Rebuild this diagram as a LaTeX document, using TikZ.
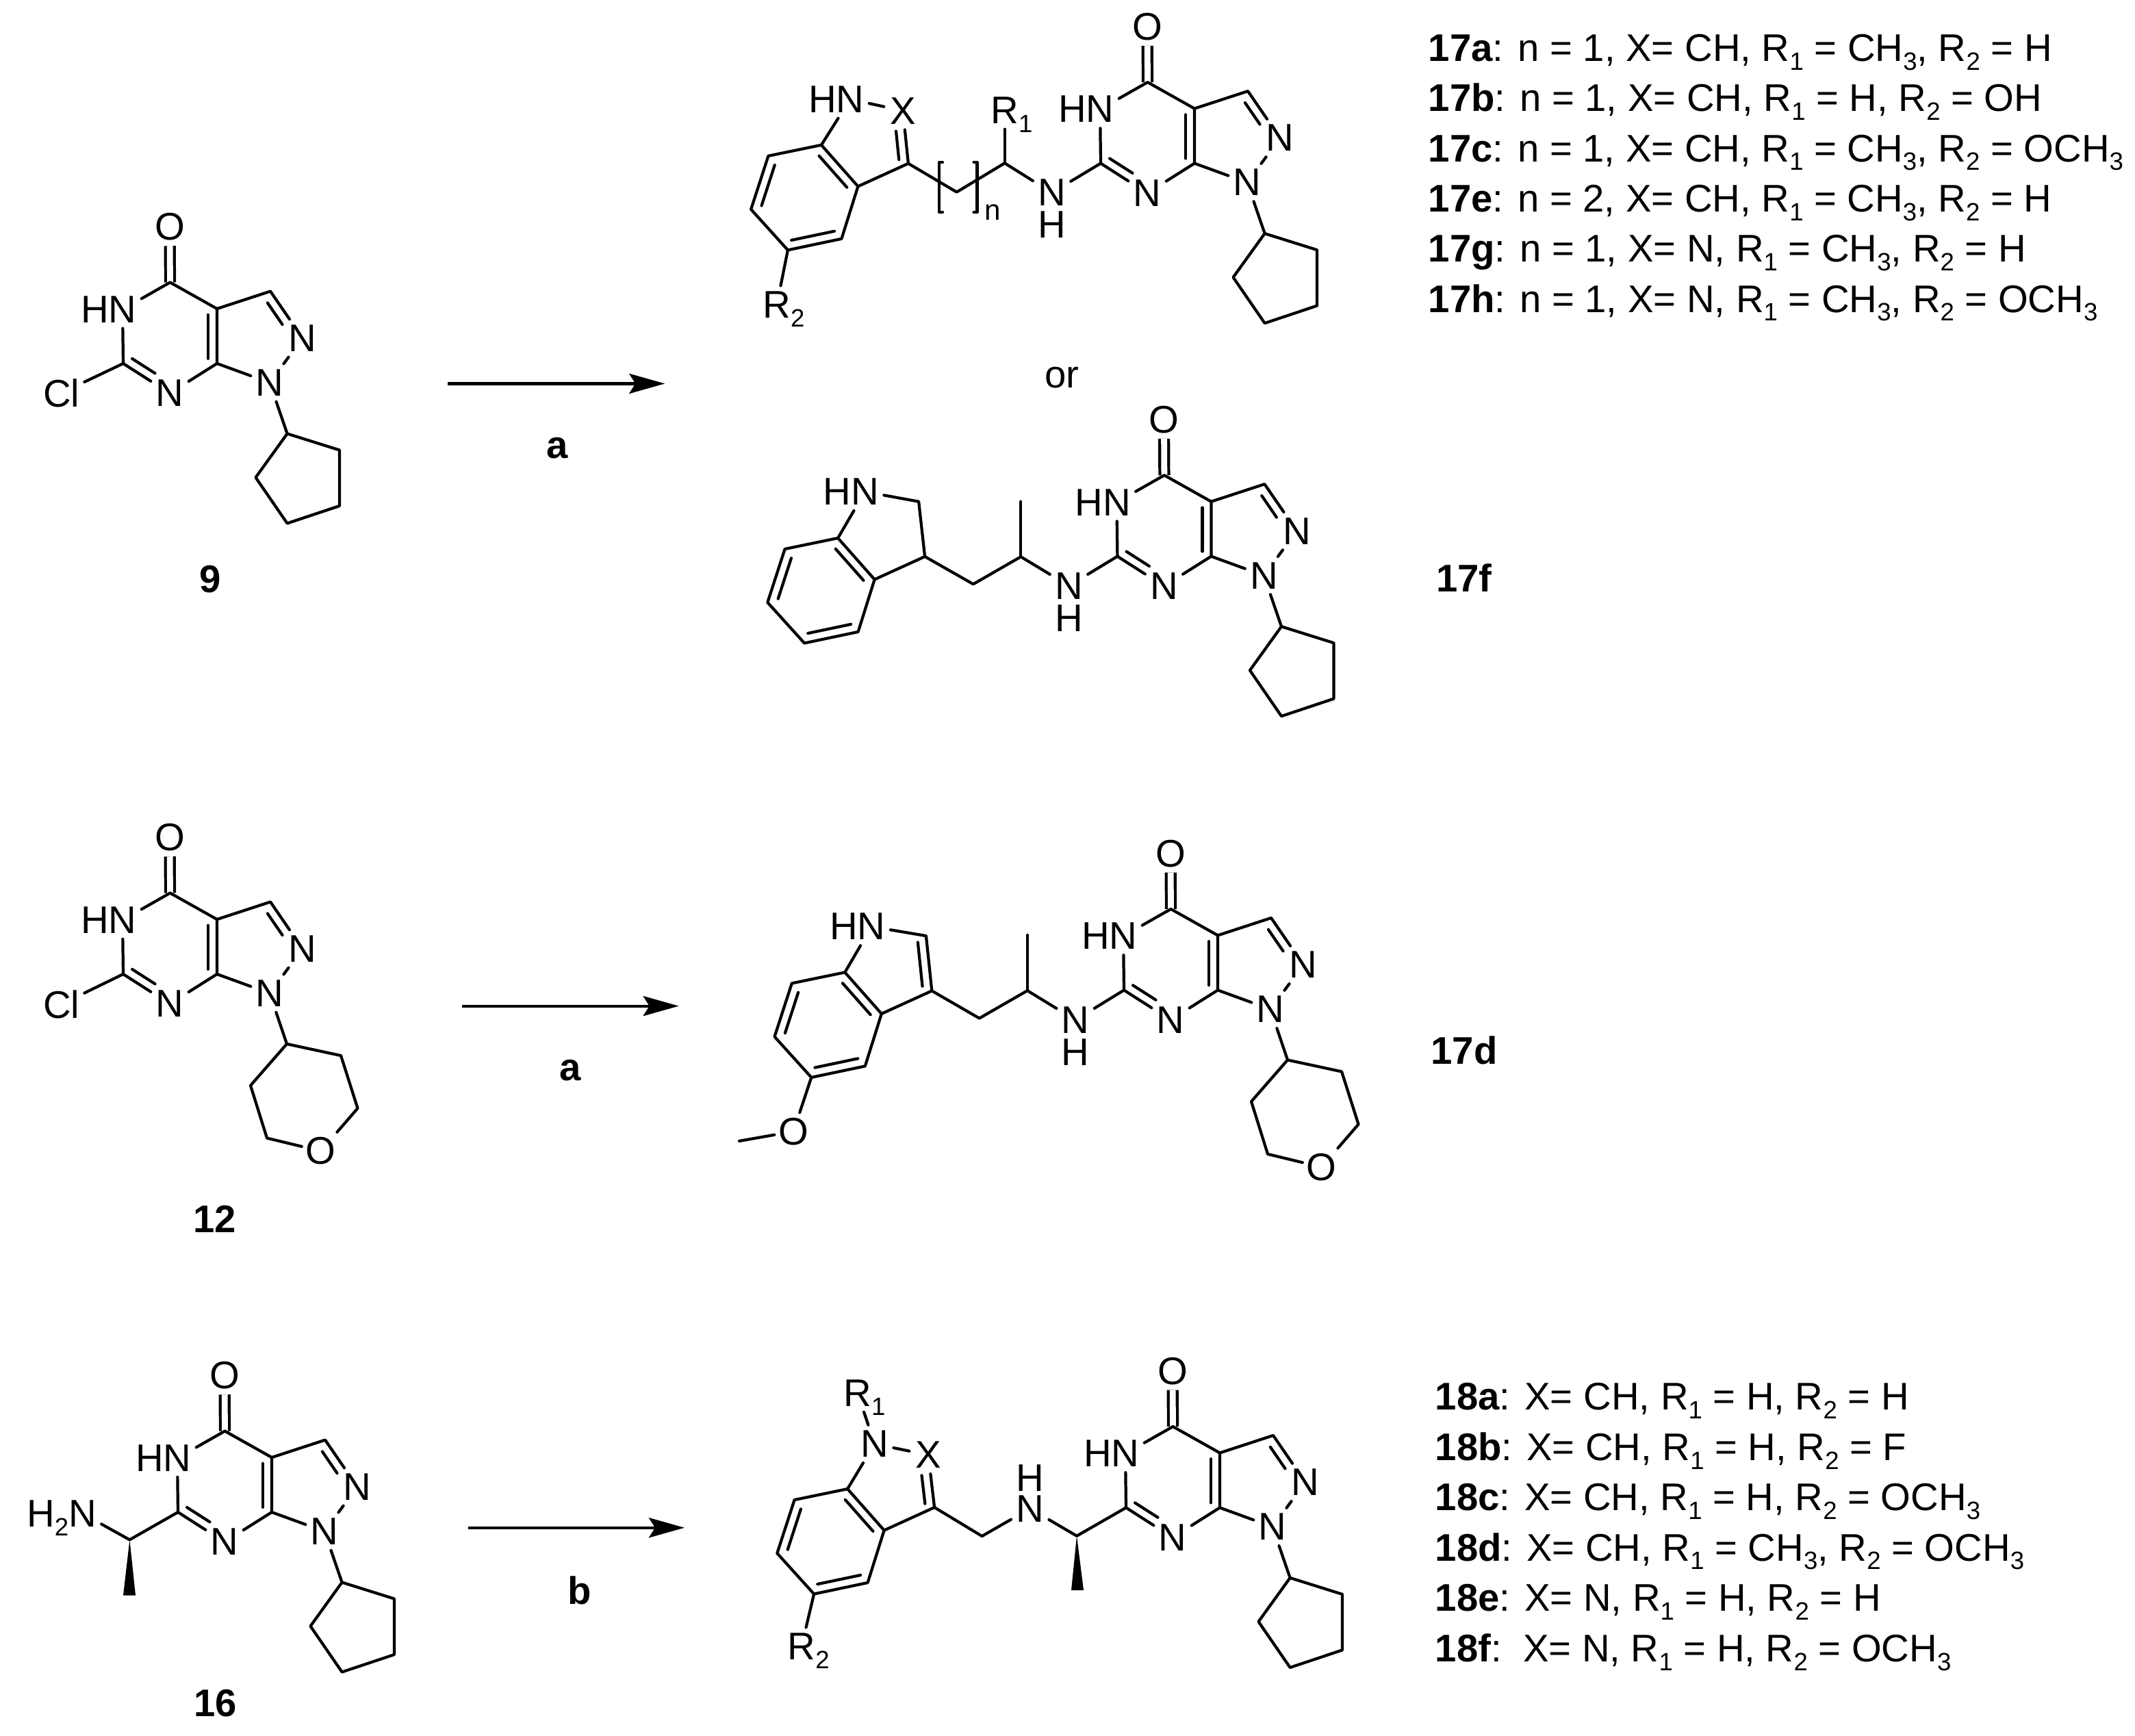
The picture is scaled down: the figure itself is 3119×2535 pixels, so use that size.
\documentclass[tikz,border=0pt]{standalone}
\usepackage{fontspec}
\setmainfont{Liberation Sans}
\usepackage{tikz}
\usetikzlibrary{positioning,arrows.meta,calc}

\newcommand{\atomfont}{\fontsize{16}{19}\selectfont}
\newcommand{\dn}[1]{\smash{\raisebox{-.23em}{\fontsize{10.4}{12}\selectfont #1}}}

\tikzset{
  bond/.style={line width=1.2pt, line cap=round, line join=round},
  dblbond/.style={double, double distance=2.5pt, line width=1.2pt},
  atom/.style={rectangle, inner sep=0pt, minimum width=0.54cm, minimum height=0.54cm, font=\atomfont},
  hatom/.style={inner sep=0pt, font=\atomfont},
  tag/.style={inner sep=0pt, font=\atomfont\bfseries},
  rowtext/.style={anchor=base west, inner sep=0pt, font=\atomfont},
  rxn/.style={line width=1.2pt, -{Stealth[length=0.52cm, width=0.29cm, inset=0.09cm]}}
}

% inner stroke of a double bond: atoms, turn angle, end fractions
\newcommand{\inbond}[5]{\draw[bond] ($($(#1)!#4!(#2)$)!0.13cm!#3:(#2)$) -- ($($(#2)!#5!(#1)$)!-0.13cm!#3:(#1)$);}

% pyrazolopyrimidinone core
\newcommand{\pyrcore}[3]{%
  \begin{scope}[shift={(#2,#3)}]
    \coordinate (#1c3a) at (0,0);
    \coordinate (#1c7a) at (0,80);
    \coordinate (#1c4) at (-68.5,-38.5);
    \coordinate (#1c6) at (-137,80);
    \coordinate (#1c3) at (78,-25.5);
    \node[atom] (#1o) at (-69,-119.5) {O};
    \node[atom] (#1n5) at (-138,1) {\llap{H}N};
    \node[atom] (#1n7) at (-69,123.5) {N};
    \node[atom] (#1n2) at (125,43) {N};
    \node[atom] (#1n1) at (77,108) {N};
    \draw[dblbond] (#1c4) -- (#1o);
    \draw[bond] (#1c3a) -- (#1c4) -- (#1n5) -- (#1c6) -- (#1n7) -- (#1c7a) -- (#1c3a);
    \draw[bond] (#1c3a) -- (#1c3) -- (#1n2) -- (#1n1) -- (#1c7a);
    \inbond{#1c3a}{#1c7a}{-90}{.11}{.09}
    \inbond{#1c3}{#1n2}{-90}{.14}{.40}
    \inbond{#1c6}{#1n7}{90}{.09}{.42}
  \end{scope}}

% cyclopentyl on N1
\newcommand{\cpentyl}[1]{%
  \begin{scope}[shift={(#1c3a)}]
    \coordinate (#1y1) at (102.6,182.5);
    \coordinate (#1y2) at (179,206.5);
    \coordinate (#1y3) at (179,288);
    \coordinate (#1y4) at (102.6,313.5);
    \coordinate (#1y5) at (56.5,246.5);
    \draw[bond] (#1n1) -- (#1y1);
    \draw[bond] (#1y1) -- (#1y2) -- (#1y3) -- (#1y4) -- (#1y5) -- cycle;
  \end{scope}}

% tetrahydropyranyl on N1
\newcommand{\thpyran}[1]{%
  \begin{scope}[shift={(#1c3a)}]
    \coordinate (#1y1) at (102,182);
    \coordinate (#1y2) at (181,199);
    \coordinate (#1y3) at (205.5,276);
    \node[atom] (#1yo) at (151.5,338.5) {O};
    \coordinate (#1y5) at (73,319.5);
    \coordinate (#1y6) at (49,242.7);
    \draw[bond] (#1n1) -- (#1y1) -- (#1y2) -- (#1y3) -- (#1yo) -- (#1y5) -- (#1y6) -- (#1y1);
  \end{scope}}

% benzo ring of the indole, with the bond out to C3
\newcommand{\benzring}[3]{%
  \begin{scope}[shift={(#2,#3)}]
    \coordinate (#1a) at (0,0);
    \coordinate (#1b) at (-77.5,16);
    \coordinate (#1c) at (-102.8,94);
    \coordinate (#1d) at (-49,153.5);
    \coordinate (#1e) at (29.5,137);
    \coordinate (#1f) at (53.5,60.5);
    \coordinate (#1k) at (127,27);
    \draw[bond] (#1a) -- (#1b) -- (#1c) -- (#1d) -- (#1e) -- (#1f) -- cycle;
    \draw[bond] (#1f) -- (#1k);
    \inbond{#1a}{#1f}{-90}{.12}{.12}
    \inbond{#1b}{#1c}{90}{.12}{.12}
    \inbond{#1d}{#1e}{90}{.1}{.1}
  \end{scope}}

\begin{document}
\begin{tikzpicture}[x=0.01cm, y=-0.01cm]
        \useasboundingbox (0,0) rectangle (3119,2535);

        % Compound 9
        \pyrcore{sa}{317}{451}
        \cpentyl{sa}
        \node[atom, minimum width=0.66cm] (sacl) at (89.6,574) {Cl};
        \draw[bond] (sac6) -- (sacl);
        \node[tag] (saname) at (307.4,846.3) {9};

        % Arrow a, first row
        \coordinate (rxa) at (653.7,560.4);
        \coordinate (rxb) at (971.3,560.4);
        \draw[rxn] (rxa) -- (rxb);
        \node[tag] (rxalab) at (814,655) {a};

        % Product 17a-c,e,g,h
        \pyrcore{pa}{1745}{158.6}
        \cpentyl{pa}
        \benzring{pa}{1199.9}{211.8}
        \node[atom] (pan) at (1242,145) {\llap{H}N};
        \node[atom] (pax) at (1319,161.8) {X};
        \node[atom] (par) at (1467.7,161) {R\rlap{\dn{1}}};
        \node[atom] (pars) at (1134.9,445) {R\rlap{\dn{2}}};
        \coordinate (pam) at (1397.6,280.6);
        \coordinate (pacr) at (1467.7,238.3);
        \node[atom, minimum height=0.42cm] (panh) at (1536.6,281.5) {N};
        \node[hatom] (pah) at (1536.6,328) {H};
        \draw[bond] (paa) -- (pan) -- (pax) -- (pak) -- (pam) -- (pacr) -- (panh) -- (pac6);
        \inbond{pax}{pak}{-90}{.37}{.09}
        \draw[bond] (pacr) -- (par);
        \draw[bond] (pad) -- (pars);
        % n brackets
        \coordinate (pbl) at (1372,237);
        \coordinate (pbm) at (1372,310);
        \coordinate (pbr) at (1427.5,237);
        \coordinate (pbs) at (1427.5,310);
        \draw[bond] ([xshift=0.05cm]pbl) -- (pbl) -- (pbm) -- ([xshift=0.05cm]pbm);
        \draw[bond] ([xshift=-0.05cm]pbr) -- (pbr) -- (pbs) -- ([xshift=-0.05cm]pbs);
        \node[inner sep=0pt, font=\fontsize{12}{14}\selectfont] (pabn) at (1450.5,310) {n};

        \node[atom] (orlab) at (1551,552) {or};

        % Product 17f
        \pyrcore{pf}{1769.4}{732.7}
        \cpentyl{pf}
        \benzring{pf}{1224.1}{786}
        \node[atom] (pfn) at (1263.6,718.3) {\llap{H}N};
        \coordinate (pfc) at (1342.1,732.7);
        \coordinate (pfm) at (1421.8,853.3);
        \coordinate (pfcr) at (1491.3,813.3);
        \coordinate (pfme) at (1491.3,732.7);
        \node[atom, minimum height=0.42cm] (pfnh) at (1561.5,855.7) {N};
        \node[hatom] (pfh) at (1561.5,903.3) {H};
        \draw[bond] (pfa) -- (pfn) -- (pfc) -- (pfk) -- (pfm) -- (pfcr) -- (pfnh) -- (pfc6);
        \draw[bond] (pfcr) -- (pfme);
        \node[tag] (pfname) at (2139,844) {17f};

        % Compound 12
        \pyrcore{sb}{317}{1343}
        \thpyran{sb}
        \node[atom, minimum width=0.66cm] (sbcl) at (89.6,1467) {Cl};
        \draw[bond] (sbc6) -- (sbcl);
        \node[tag] (sbname) at (313.8,1781) {12};

        % Arrow a, second row
        \coordinate (rya) at (674.7,1469.6);
        \coordinate (ryb) at (991.7,1469.6);
        \draw[rxn] (rya) -- (ryb);
        \node[tag] (ryalab) at (833.6,1564) {a};

        % Product 17d
        \pyrcore{pd}{1779}{1366.4}
        \thpyran{pd}
        \benzring{pd}{1234.3}{1420.4}
        \node[atom] (pdn) at (1273.2,1353.6) {\llap{H}N};
        \coordinate (pdc) at (1352.9,1367.1);
        \coordinate (pdm) at (1430.7,1487.5);
        \coordinate (pdcr) at (1500.9,1447.1);
        \coordinate (pdme) at (1500.9,1366);
        \node[atom, minimum height=0.42cm] (pdnh) at (1571,1490) {N};
        \node[hatom] (pdh) at (1571,1537.5) {H};
        \node[atom] (pdo) at (1159,1652.9) {O};
        \coordinate (pdoc) at (1080,1666.8);
        \draw[bond] (pda) -- (pdn) -- (pdc) -- (pdk) -- (pdm) -- (pdcr) -- (pdnh) -- (pdc6);
        \inbond{pdc}{pdk}{-90}{.1}{.1}
        \draw[bond] (pdcr) -- (pdme);
        \draw[bond] (pdd) -- (pdo) -- (pdoc);
        \node[tag] (pdname) at (2139,1534) {17d};

        % Compound 16
        \pyrcore{sc}{397}{2129}
        \cpentyl{sc}
        \coordinate (sccs) at (189.4,2249.3);
        \coordinate (scw) at (189,2330.6);
        \node[atom] (scn) at (120.5,2211) {\llap{H\dn{2}}N};
        \draw[bond] (scc6) -- (sccs) -- (scn);
        \fill (sccs) -- ([xshift=-0.09cm]scw) -- ([xshift=0.09cm]scw) -- cycle;
        \node[tag] (scname) at (314.4,2488) {16};

        % Arrow b
        \coordinate (rza) at (684.3,2231.7);
        \coordinate (rzb) at (1000,2231.7);
        \draw[rxn] (rza) -- (rzb);
        \node[tag] (rzblab) at (846.3,2323) {b};

        % Product 18
        \pyrcore{pe}{1782}{2122.4}
        \cpentyl{pe}
        \benzring{pe}{1238.1}{2175}
        \node[atom] (pen) at (1277.7,2109.3) {N};
        \node[atom] (pex) at (1356.1,2125.4) {X};
        \node[atom] (per) at (1252.8,2035) {R\rlap{\dn{1}}};
        \node[atom] (pers) at (1171,2405) {R\rlap{\dn{2}}};
        \coordinate (pem) at (1434.6,2244);
        \node[atom, minimum height=0.42cm] (penh) at (1504.7,2203.7) {N};
        \node[hatom] (peh) at (1504.7,2159) {H};
        \coordinate (pecs) at (1573,2243.7);
        \coordinate (pew) at (1574,2323);
        \draw[bond] (pea) -- (pen) -- (pex) -- (pek) -- (pem) -- (penh) -- (pecs) -- (pec6);
        \inbond{pex}{pek}{-90}{.37}{.09}
        \draw[bond] (pen) -- (per);
        \draw[bond] (ped) -- (pers);
        \fill (pecs) -- ([xshift=-0.09cm]pew) -- ([xshift=0.09cm]pew) -- cycle;

        % Substituent table 17
        \foreach \y/\lab/\txt in {89.3/17a/{: n = 1, X= CH, R\dn{1} = CH\dn{3}, R\dn{2} = H},
            162.7/17b/{: n = 1, X= CH, R\dn{1} = H, R\dn{2} = OH},
            236/17c/{: n = 1, X= CH, R\dn{1} = CH\dn{3}, R\dn{2} = OCH\dn{3}},
            309.3/17e/{: n = 2, X= CH, R\dn{1} = CH\dn{3}, R\dn{2} = H},
            382.7/17g/{: n = 1, X= N, R\dn{1} = CH\dn{3}, R\dn{2} = H},
            456/17h/{: n = 1, X= N, R\dn{1} = CH\dn{3}, R\dn{2} = OCH\dn{3}}} {
          \node[rowtext] (L\lab) at (2086,\y) {\textbf{\lab}\txt};
        }

        % Substituent table 18
        \foreach \y/\lab/\txt in {2059.3/18a/{: X= CH, R\dn{1} = H, R\dn{2} = H},
            2133.3/18b/{: X= CH, R\dn{1} = H, R\dn{2} = F},
            2206.7/18c/{: X= CH, R\dn{1} = H, R\dn{2} = OCH\dn{3}},
            2280/18d/{: X= CH, R\dn{1} = CH\dn{3}, R\dn{2} = OCH\dn{3}},
            2353.3/18e/{: X= N, R\dn{1} = H, R\dn{2} = H},
            2427.3/18f/{:\ \ X= N, R\dn{1} = H, R\dn{2} = OCH\dn{3}}} {
          \node[rowtext] (L\lab) at (2096,\y) {\textbf{\lab}\txt};
        }
    \end{tikzpicture}
\end{document}
